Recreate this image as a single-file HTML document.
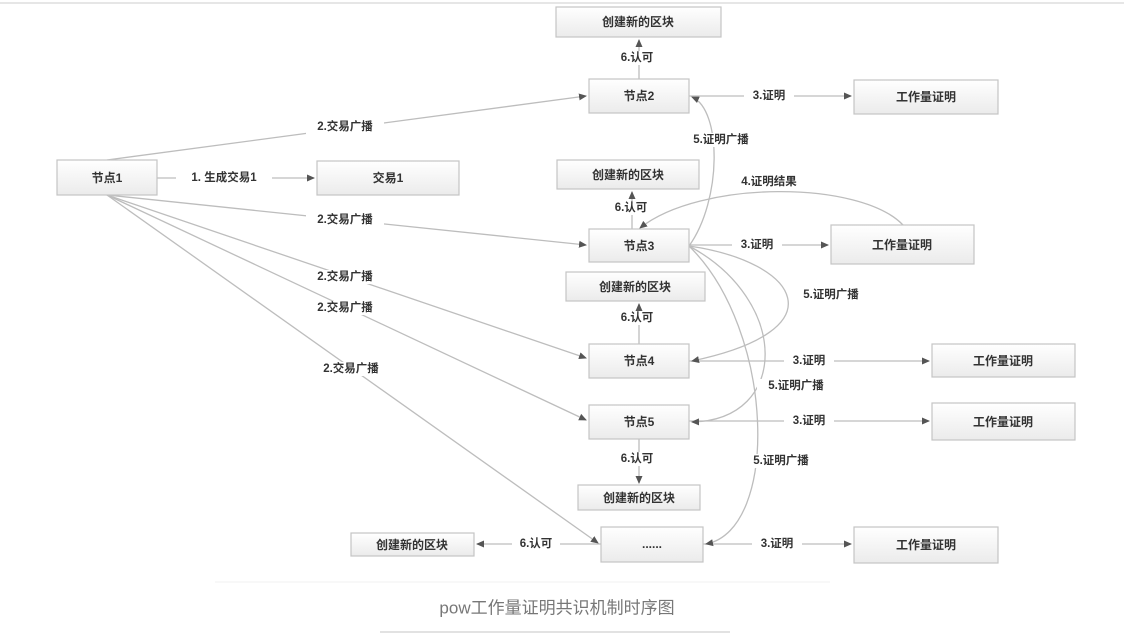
<!DOCTYPE html>
<html><head><meta charset="utf-8"><style>
html,body{margin:0;padding:0;background:#fff;}
svg{display:block;}
text{font-family:"Liberation Sans","Noto Sans CJK SC",sans-serif;fill:#333;font-weight:bold;}
</style></head><body>
<svg width="1124" height="635" viewBox="0 0 1124 635" xmlns="http://www.w3.org/2000/svg">
<defs>
<linearGradient id="g" x1="0" y1="0" x2="0" y2="1"><stop offset="0" stop-color="#ffffff"/><stop offset="1" stop-color="#ebebeb"/></linearGradient>
<marker id="a" markerWidth="8" markerHeight="8" refX="7" refY="4" orient="auto" markerUnits="userSpaceOnUse"><path d="M0,0.5 L8,4 L0,7.5 z" fill="#555"/></marker>
</defs>
<line x1="0" y1="3" x2="1124" y2="3" stroke="#e6e6e6" stroke-width="2"/>
<line x1="215" y1="582" x2="830" y2="582" stroke="#f0f0f0" stroke-width="1"/>
<line x1="380" y1="632" x2="730" y2="632" stroke="#d8d8d8" stroke-width="1.5"/>

<g fill="none" stroke="#bdbdbd" stroke-width="1.3">
<path d="M107,160 L586,96" marker-end="url(#a)"/>
<path d="M157,178 L314,178" marker-end="url(#a)"/>
<path d="M107,195 L586,245" marker-end="url(#a)"/>
<path d="M107,195 L586,358" marker-end="url(#a)"/>
<path d="M107,195 L586,420" marker-end="url(#a)"/>
<path d="M107,195 L598,543" marker-end="url(#a)"/>
<path d="M639,79 L639,40" marker-end="url(#a)"/>
<path d="M632,229 L632,192" marker-end="url(#a)"/>
<path d="M639,344 L639,304" marker-end="url(#a)"/>
<path d="M639,439 L639,483" marker-end="url(#a)"/>
<path d="M601,544 L477,544" marker-end="url(#a)"/>
<path d="M689,96 L851,96" marker-end="url(#a)"/>
<path d="M689,245 L828,245" marker-end="url(#a)"/>
<path d="M689,361 L929,361" marker-end="url(#a)"/>
<path d="M689,421 L929,421" marker-end="url(#a)"/>
<path d="M703,544 L851,544" marker-end="url(#a)"/>
<path d="M903,225 C860,180 700,180 640,228" marker-end="url(#a)"/>
<path d="M689,246 C722,200 722,110 692,97" marker-end="url(#a)"/>
<path d="M689,246 C800,262 840,330 692,361" marker-end="url(#a)"/>
<path d="M689,246 C790,300 790,420 692,422" marker-end="url(#a)"/>
<path d="M689,246 C775,330 780,530 706,544" marker-end="url(#a)"/>
</g>

<g fill="url(#g)" stroke="#c4c4c4" stroke-width="1.2">
<rect x="556" y="7" width="165" height="30"/>
<rect x="589" y="79" width="100" height="34"/>
<rect x="854" y="80" width="144" height="34"/>
<rect x="57" y="160" width="100" height="35"/>
<rect x="317" y="161" width="142" height="34"/>
<rect x="557" y="160" width="142" height="29"/>
<rect x="589" y="229" width="100" height="33"/>
<rect x="831" y="225" width="143" height="39"/>
<rect x="566" y="272" width="139" height="29"/>
<rect x="589" y="344" width="100" height="34"/>
<rect x="932" y="344" width="143" height="33"/>
<rect x="589" y="405" width="100" height="34"/>
<rect x="932" y="403" width="143" height="37"/>
<rect x="578" y="485" width="122" height="25"/>
<rect x="601" y="527" width="102" height="35"/>
<rect x="854" y="527" width="144" height="36"/>
<rect x="351" y="533" width="123" height="23"/>
</g>

<g font-size="12" text-anchor="middle" dominant-baseline="central">
<text x="638" y="22">创建新的区块</text>
<text x="639" y="96">节点2</text>
<text x="926" y="97">工作量证明</text>
<text x="107" y="178">节点1</text>
<text x="388" y="178">交易1</text>
<text x="628" y="175">创建新的区块</text>
<text x="639" y="246">节点3</text>
<text x="902" y="245">工作量证明</text>
<text x="635" y="287">创建新的区块</text>
<text x="639" y="361">节点4</text>
<text x="1003" y="361">工作量证明</text>
<text x="639" y="422">节点5</text>
<text x="1003" y="422">工作量证明</text>
<text x="639" y="498">创建新的区块</text>
<text x="652" y="544">......</text>
<text x="926" y="545">工作量证明</text>
<text x="412" y="545">创建新的区块</text>
</g>

<g font-size="11.5" text-anchor="middle" dominant-baseline="central">
<g fill="#fff" stroke="none">
<rect x="613" y="51" width="48" height="14"/><rect x="607" y="201" width="48" height="14"/>
<rect x="613" y="311" width="48" height="14"/><rect x="613" y="452" width="48" height="14"/>
<rect x="512" y="537" width="48" height="14"/>
<rect x="744" y="89" width="50" height="14"/><rect x="732" y="238" width="50" height="14"/>
<rect x="784" y="354" width="50" height="14"/><rect x="784" y="414" width="50" height="14"/>
<rect x="752" y="537" width="50" height="14"/>
<rect x="176" y="171" width="96" height="14"/>
<rect x="306" y="120" width="78" height="14"/><rect x="306" y="213" width="78" height="14"/>
<rect x="306" y="270" width="78" height="14"/><rect x="306" y="301" width="78" height="14"/>
<rect x="312" y="362" width="78" height="14"/>
<rect x="682" y="133" width="78" height="14"/><rect x="730" y="175" width="78" height="14"/>
<rect x="792" y="288" width="78" height="14"/><rect x="757" y="379" width="78" height="14"/>
<rect x="742" y="454" width="78" height="14"/>
</g>
<text x="637" y="58">6.认可</text>
<text x="631" y="208">6.认可</text>
<text x="637" y="318">6.认可</text>
<text x="637" y="459">6.认可</text>
<text x="536" y="544">6.认可</text>
<text x="769" y="96">3.证明</text>
<text x="757" y="245">3.证明</text>
<text x="809" y="361">3.证明</text>
<text x="809" y="421">3.证明</text>
<text x="777" y="544">3.证明</text>
<text x="224" y="178">1. 生成交易1</text>
<text x="345" y="127">2.交易广播</text>
<text x="345" y="220">2.交易广播</text>
<text x="345" y="277">2.交易广播</text>
<text x="345" y="308">2.交易广播</text>
<text x="351" y="369">2.交易广播</text>
<text x="721" y="140">5.证明广播</text>
<text x="769" y="182">4.证明结果</text>
<text x="831" y="295">5.证明广播</text>
<text x="796" y="386">5.证明广播</text>
<text x="781" y="461">5.证明广播</text>
</g>

<text x="557" y="608" font-size="17" text-anchor="middle" dominant-baseline="central" style="fill:#777;font-weight:normal">pow工作量证明共识机制时序图</text>
</svg>
</body></html>
